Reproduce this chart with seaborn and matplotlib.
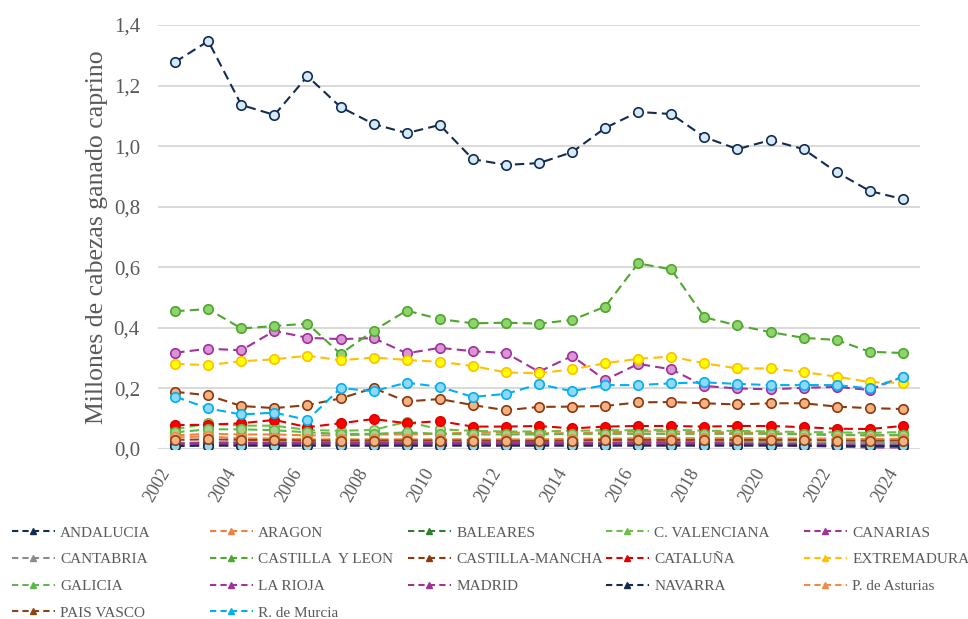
import matplotlib
matplotlib.use("Agg")
import matplotlib.pyplot as plt
import matplotlib.transforms as mtransforms
from matplotlib.lines import Line2D
import numpy as np
import pandas as pd
import seaborn as sns

# ── Data (millones de cabezas de ganado caprino) ─────────────────
years = list(range(2002, 2025))

andalucia       = [1.278, 1.347, 1.136, 1.103, 1.231, 1.129, 1.073, 1.043, 1.070, 0.957, 0.938, 0.944,
                   0.980, 1.060, 1.113, 1.106, 1.030, 0.990, 1.020, 0.990, 0.914, 0.852, 0.825]
aragon          = [0.045, 0.050, 0.048, 0.048, 0.045, 0.045, 0.048, 0.048, 0.050, 0.055, 0.055, 0.052,
                   0.052, 0.055, 0.058, 0.058, 0.055, 0.055, 0.052, 0.050, 0.048, 0.045, 0.045]
baleares        = [0.018, 0.020, 0.020, 0.020, 0.020, 0.020, 0.020, 0.020, 0.020, 0.019, 0.019, 0.019,
                   0.019, 0.020, 0.020, 0.020, 0.020, 0.020, 0.020, 0.019, 0.019, 0.018, 0.018]
c_valenciana    = [0.065, 0.085, 0.077, 0.077, 0.063, 0.060, 0.063, 0.090, 0.065, 0.060, 0.058, 0.058,
                   0.060, 0.062, 0.062, 0.064, 0.060, 0.060, 0.058, 0.056, 0.055, 0.053, 0.056]
canarias        = [0.318, 0.331, 0.326, 0.390, 0.367, 0.363, 0.366, 0.316, 0.334, 0.323, 0.317, 0.255,
                   0.307, 0.228, 0.281, 0.263, 0.208, 0.200, 0.197, 0.202, 0.205, 0.195, 0.239]
cantabria       = [0.020, 0.022, 0.022, 0.022, 0.022, 0.022, 0.022, 0.022, 0.022, 0.022, 0.022, 0.022,
                   0.022, 0.022, 0.022, 0.022, 0.023, 0.023, 0.023, 0.022, 0.021, 0.020, 0.020]
castilla_leon   = [0.455, 0.462, 0.398, 0.406, 0.414, 0.314, 0.391, 0.457, 0.429, 0.415, 0.417, 0.414,
                   0.426, 0.470, 0.613, 0.593, 0.435, 0.408, 0.386, 0.367, 0.360, 0.321, 0.317]
castilla_mancha = [0.189, 0.177, 0.142, 0.135, 0.145, 0.167, 0.201, 0.157, 0.165, 0.145, 0.128, 0.139,
                   0.140, 0.142, 0.154, 0.155, 0.151, 0.147, 0.151, 0.151, 0.140, 0.135, 0.132]
cataluna        = [0.079, 0.080, 0.085, 0.096, 0.072, 0.085, 0.099, 0.085, 0.092, 0.074, 0.074, 0.076,
                   0.068, 0.074, 0.076, 0.076, 0.074, 0.076, 0.076, 0.072, 0.067, 0.066, 0.076]
extremadura     = [0.281, 0.277, 0.290, 0.296, 0.308, 0.293, 0.302, 0.294, 0.288, 0.274, 0.253, 0.250,
                   0.263, 0.283, 0.298, 0.305, 0.283, 0.266, 0.266, 0.254, 0.239, 0.221, 0.218]
galicia         = [0.055, 0.065, 0.065, 0.062, 0.055, 0.050, 0.050, 0.055, 0.050, 0.048, 0.048, 0.048,
                   0.050, 0.050, 0.050, 0.050, 0.050, 0.050, 0.050, 0.048, 0.046, 0.045, 0.047]
la_rioja        = [0.012, 0.013, 0.013, 0.013, 0.013, 0.013, 0.013, 0.013, 0.013, 0.013, 0.013, 0.013,
                   0.013, 0.013, 0.014, 0.014, 0.014, 0.014, 0.014, 0.014, 0.013, 0.012, 0.012]
madrid          = [0.018, 0.020, 0.020, 0.020, 0.020, 0.020, 0.020, 0.020, 0.020, 0.020, 0.020, 0.020,
                   0.020, 0.020, 0.022, 0.022, 0.020, 0.018, 0.015, 0.010, 0.008, 0.005, 0.005]
navarra         = [0.010, 0.011, 0.011, 0.011, 0.011, 0.011, 0.011, 0.011, 0.011, 0.011, 0.011, 0.011,
                   0.011, 0.011, 0.011, 0.011, 0.011, 0.011, 0.011, 0.011, 0.010, 0.010, 0.010]
p_asturias      = [0.038, 0.042, 0.035, 0.035, 0.032, 0.032, 0.032, 0.032, 0.032, 0.032, 0.032, 0.032,
                   0.034, 0.034, 0.036, 0.036, 0.036, 0.036, 0.035, 0.035, 0.034, 0.033, 0.034]
pais_vasco      = [0.030, 0.032, 0.030, 0.030, 0.028, 0.028, 0.028, 0.028, 0.028, 0.028, 0.027, 0.027,
                   0.028, 0.030, 0.030, 0.030, 0.030, 0.030, 0.030, 0.030, 0.028, 0.027, 0.028]
r_murcia        = [0.173, 0.134, 0.114, 0.120, 0.096, 0.201, 0.191, 0.219, 0.205, 0.172, 0.182, 0.214,
                   0.191, 0.211, 0.211, 0.217, 0.220, 0.215, 0.211, 0.211, 0.211, 0.200, 0.237]

regions = ["ANDALUCIA", "ARAGON", "BALEARES", "C. VALENCIANA", "CANARIAS", "CANTABRIA",
           "CASTILLA  Y LEON", "CASTILLA-MANCHA", "CATALUÑA", "EXTREMADURA", "GALICIA",
           "LA RIOJA", "MADRID", "NAVARRA", "P. de Asturias", "PAIS VASCO", "R. de Murcia"]
series = [andalucia, aragon, baleares, c_valenciana, canarias, cantabria, castilla_leon,
          castilla_mancha, cataluna, extremadura, galicia, la_rioja, madrid, navarra,
          p_asturias, pais_vasco, r_murcia]

# (line colour, marker fill)
styles = {
    "ANDALUCIA":        ("#142C52", "#D5EAF7"),
    "ARAGON":           ("#F08040", "#F4B183"),
    "BALEARES":         ("#2F7F2F", "#A9D18E"),
    "C. VALENCIANA":    ("#6CBF45", "#C5E0B4"),
    "CANARIAS":         ("#A0329B", "#DA95D6"),
    "CANTABRIA":        ("#8C8C8C", "#D9D9D9"),
    "CASTILLA  Y LEON": ("#4EA72E", "#8ED36C"),
    "CASTILLA-MANCHA":  ("#8B3A10", "#F4B183"),
    "CATALUÑA":         ("#E00000", "#FF0000"),
    "EXTREMADURA":      ("#FFC000", "#FFFF00"),
    "GALICIA":          ("#5DB84A", "#A9D18E"),
    "LA RIOJA":         ("#A0329B", "#E1A0DC"),
    "MADRID":           ("#9E3096", "#E1A0DC"),
    "NAVARRA":          ("#142C52", "#8FD8F8"),
    "P. de Asturias":   ("#F08A4B", "#F4B183"),
    "PAIS VASCO":       ("#8B4513", "#F4B183"),
    "R. de Murcia":     ("#00B0F0", "#8FD8F8"),
}

TEXT = "#595959"
GRID = "#D9D9D9"

sns.set_theme(style="white")
plt.rcParams["font.family"] = ["Liberation Serif", "DejaVu Serif"]

fig = plt.figure(figsize=(9.68, 6.19), dpi=100)
ax = fig.add_axes([158 / 968, 1 - 449 / 619, (920 - 158) / 968, (449 - 25) / 619])

for name, vals in zip(regions, series):
    line_c, fill_c = styles[name]
    df = pd.DataFrame({"year": years, "value": vals})
    sns.lineplot(data=df, x="year", y="value", ax=ax, errorbar=None,
                 color=line_c, linewidth=1.5, linestyle=(0, (4.5, 2.5)),
                 marker="o", markersize=6.8, markerfacecolor=fill_c,
                 markeredgecolor=line_c, markeredgewidth=1.2)

ax.set_xlim(2002 - 0.52, 2024 + 0.52)
ax.set_ylim(0, 1.4)
ax.set_yticks(np.arange(0, 1.41, 0.2))
ax.set_yticklabels([f"{v:.1f}".replace(".", ",") for v in np.arange(0, 1.41, 0.2)])
ax.set_xticks(range(2002, 2025, 2))
ax.set_xticklabels([str(y) for y in range(2002, 2025, 2)], rotation=60,
                   ha="right", va="center", rotation_mode="anchor")
ax.tick_params(axis="y", length=0, pad=13, labelsize=15, labelcolor=TEXT)
ax.tick_params(axis="x", length=0, pad=15, labelsize=13, labelcolor=TEXT)
# nudge the rotated year labels slightly left, as in the original
shift = mtransforms.ScaledTranslation(-9 / 100, 0, fig.dpi_scale_trans)
for lbl in ax.get_xticklabels():
    lbl.set_transform(lbl.get_transform() + shift)
ax.set_xlabel("")
ax.set_ylabel("Millones de cabezas ganado caprino", fontsize=18.5, color=TEXT, labelpad=4)
ax.grid(axis="y", color=GRID, linewidth=1.4)
ax.set_axisbelow(True)
for s in ax.spines.values():
    s.set_visible(False)

# ── Legend: five columns laid out row by row ─────────────────────
ncol = 5
col_x = [12, 210, 408, 606, 804]
for c in range(ncol):
    names = regions[c::ncol]
    handles = [Line2D([0], [0], color=styles[n][0], linewidth=1.5,
                      linestyle=(0, (3, 2)), marker="^", markersize=5,
                      markerfacecolor=styles[n][0], markeredgecolor=styles[n][0])
               for n in names]
    fig.legend(handles, names, loc="upper left",
               bbox_to_anchor=(col_x[c] / 968, 1 - 526 / 619),
               frameon=False, fontsize=11, labelcolor=TEXT,
               handlelength=2.8, handletextpad=0.35, labelspacing=0.85,
               borderpad=0, borderaxespad=0)

fig.savefig("out.png", dpi=100, facecolor="white")
